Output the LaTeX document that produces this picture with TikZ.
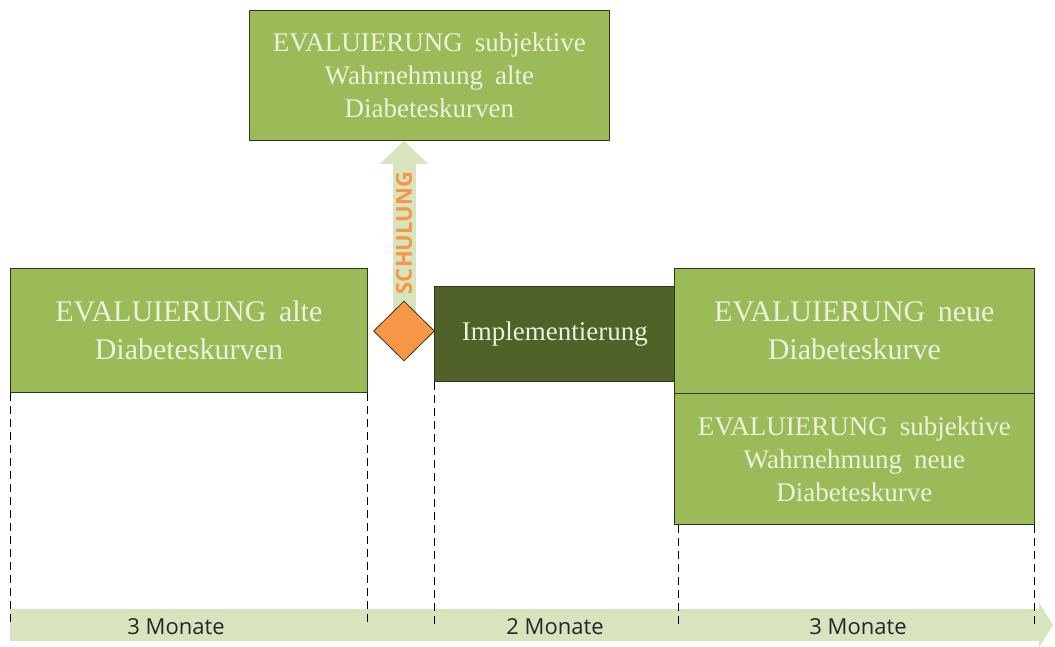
\documentclass[tikz,border=0pt]{standalone}
\usepackage{fontspec}
\setmainfont{Liberation Serif}
\setsansfont{Open Sans}
\usetikzlibrary{shapes.geometric,arrows.meta,backgrounds}

\definecolor{boxgreen}{HTML}{9BBB59}
\definecolor{boxline}{HTML}{2E3A18}
\definecolor{boxtext}{HTML}{EBF1DE}
\definecolor{impgreen}{HTML}{4F6228}
\definecolor{palegreen}{HTML}{D7E4BD}
\definecolor{schulorange}{HTML}{F79646}

\newcommand{\grossschrift}{\fontsize{30}{38}\selectfont\spaceskip 0.42em\relax}
\newcommand{\kleinschrift}{\fontsize{27}{33}\selectfont\spaceskip 0.45em\relax}

\tikzset{
  evalbox/.style={draw=boxline, fill=boxgreen, text=boxtext, align=center,
    anchor=north west, inner sep=0pt, line width=0.8pt},
  impbox/.style={evalbox, fill=impgreen},
  bigtext/.style={font=\grossschrift},
  smalltext/.style={font=\kleinschrift},
  raute/.style={diamond, draw=boxline, fill=schulorange, inner sep=0pt,
    minimum width=61pt, minimum height=60pt, line width=0.8pt},
  uparrow/.style={draw=palegreen, line width=23pt, -{Triangle[length=23pt,width=47pt]}},
  timeline/.style={draw=palegreen, line width=32pt, -{Triangle[length=14pt,width=44pt]}},
  dashline/.style={draw=black, line width=0.7pt, dash pattern=on 8pt off 5pt},
  monat/.style={font=\sffamily\fontsize{22}{26}\selectfont, text=black!85},
  schul/.style={font=\sffamily\bfseries\fontsize{22}{26}\selectfont, text=schulorange}
}

\begin{document}
\begin{tikzpicture}[x=1pt,y=-1pt]
\useasboundingbox (0,0) rectangle (1055,647);

\node[evalbox, smalltext, minimum width=360pt, minimum height=130pt]
  (subalt) at (249,10) {EVALUIERUNG subjektive\\Wahrnehmung alte\\Diabeteskurven};
\node[evalbox, bigtext, minimum width=357pt, minimum height=124pt]
  (alt) at (10,268) {EVALUIERUNG alte\\Diabeteskurven};
\node[impbox, minimum width=241pt, minimum height=95pt, font=\fontsize{27}{32}\selectfont]
  (imp) at (434,286) {Implementierung};
\node[evalbox, bigtext, minimum width=360pt, minimum height=125pt]
  (neu) at (674,268) {EVALUIERUNG neue\\Diabeteskurve};
\node[evalbox, smalltext, minimum width=360pt, minimum height=131pt]
  (subneu) at (674,393) {EVALUIERUNG subjektive\\Wahrnehmung neue\\Diabeteskurve};

\node[raute] (dia) at (404,331) {};
\begin{scope}[on background layer]
  \draw[uparrow] (dia.center) -- (dia.center |- subalt.south);
\end{scope}
\node[schul, rotate=90] (schul) at (404,233) {SCHULUNG};

\coordinate (tl0) at (10,625);
\coordinate (tl1) at (1053,625);
\begin{scope}[on background layer]
  \draw[timeline] (tl0) -- (tl1);
\end{scope}

\draw[dashline] (alt.south west) -- (alt.south west |- tl0);
\draw[dashline] (alt.south east) -- (alt.south east |- tl0);
\draw[dashline] (imp.south west) -- (imp.south west |- tl0);
\draw[dashline] ([xshift=4pt]subneu.south west) -- ([xshift=4pt]subneu.south west |- tl0);
\draw[dashline] (subneu.south east) -- (subneu.south east |- tl0);

\node[monat] (m1) at (176,627) {3 Monate};
\node[monat] (m2) at (555,627) {2 Monate};
\node[monat] (m3) at (858,627) {3 Monate};

\end{tikzpicture}
\end{document}
